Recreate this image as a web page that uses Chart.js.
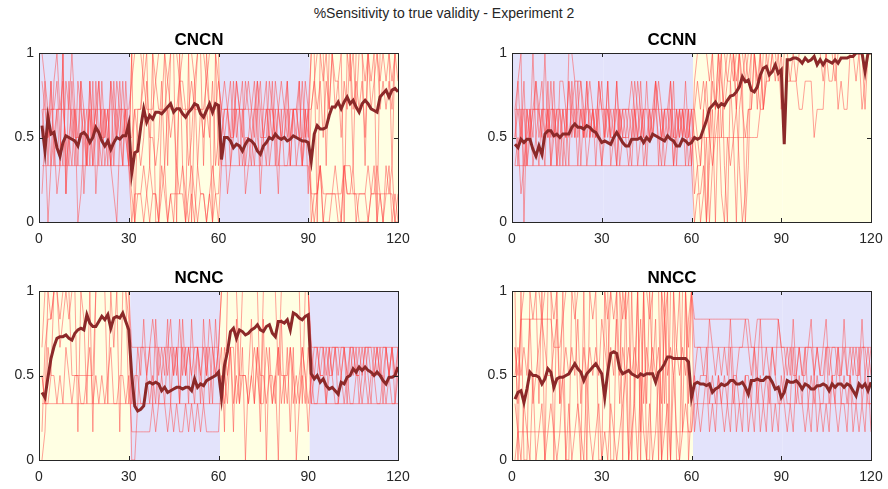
<!DOCTYPE html>
<html>
<head>
<meta charset="utf-8">
<script src="https://cdn.jsdelivr.net/npm/chart.js@4.4.0/dist/chart.umd.min.js"></script>
<style>
body { margin: 0; background: #fff; width: 888px; height: 489px; position: relative; overflow: hidden; font-family: "Liberation Sans", Arial, sans-serif; }
#mainTitle { position: absolute; left: 0; top: 5px; width: 888px; text-align: center; font-size: 14px; color: #262626; }
canvas { position: absolute; }
</style>
</head>
<body>
<div id="mainTitle">%Sensitivity to true validity - Experiment 2</div>
<canvas id="cncn" width="412" height="215" style="left:0px;top:32px"></canvas>
<canvas id="ccnn" width="412" height="215" style="left:473px;top:32px"></canvas>
<canvas id="ncnc" width="412" height="215" style="left:0px;top:270px"></canvas>
<canvas id="nncc" width="412" height="215" style="left:473px;top:270px"></canvas>
<script>
// trials 1..120
const trials = Array.from({ length: 120 }, (_, i) => i + 1);
const xTicks = [0, 30, 60, 90, 120];
const yTicks = [0, 0.5, 1];
const phaseEdges = [0, 30.5, 60.5, 90.5, 120];

// group means
const meanCNCN = [
0.57,0.42,0.62,0.52,0.53,0.44,0.39,0.47,0.51,0.50,
0.49,0.48,0.45,0.52,0.53,0.51,0.47,0.50,0.56,0.53,
0.48,0.45,0.48,0.43,0.47,0.50,0.49,0.51,0.51,0.58,
0.29,0.41,0.42,0.56,0.67,0.59,0.63,0.61,0.65,0.65,
0.64,0.66,0.68,0.70,0.65,0.67,0.67,0.64,0.62,0.65,
0.67,0.70,0.69,0.64,0.62,0.66,0.70,0.65,0.70,0.69,
0.37,0.50,0.50,0.48,0.44,0.46,0.45,0.42,0.46,0.49,
0.48,0.46,0.42,0.40,0.45,0.47,0.50,0.49,0.52,0.50,
0.49,0.50,0.48,0.49,0.51,0.50,0.49,0.48,0.48,0.47,
0.36,0.52,0.57,0.55,0.55,0.56,0.63,0.68,0.68,0.71,
0.67,0.71,0.74,0.70,0.72,0.68,0.65,0.70,0.72,0.70,
0.67,0.66,0.65,0.74,0.76,0.78,0.74,0.78,0.79,0.77];

const meanCCNN = [
0.46,0.44,0.49,0.47,0.49,0.49,0.43,0.39,0.45,0.40,
0.52,0.54,0.54,0.51,0.52,0.50,0.52,0.52,0.52,0.56,
0.58,0.56,0.56,0.55,0.57,0.56,0.54,0.53,0.50,0.47,
0.48,0.47,0.46,0.50,0.53,0.50,0.47,0.45,0.45,0.49,
0.49,0.49,0.50,0.47,0.50,0.48,0.52,0.51,0.50,0.49,
0.48,0.51,0.49,0.48,0.45,0.45,0.49,0.48,0.46,0.47,
0.50,0.49,0.50,0.55,0.60,0.67,0.69,0.71,0.68,0.70,
0.69,0.72,0.745,0.75,0.77,0.80,0.86,0.83,0.84,0.78,
0.77,0.80,0.87,0.91,0.92,0.87,0.89,0.93,0.88,0.90,
0.46,0.96,0.96,0.97,0.97,0.96,0.94,0.97,0.95,0.96,
0.98,0.93,0.96,0.93,0.96,0.95,0.94,0.96,0.94,0.97,
0.97,0.97,0.98,0.98,1.00,1.00,1.00,0.89,1.00,1.00];

const meanNCNC = [
0.40,0.37,0.49,0.60,0.67,0.72,0.73,0.73,0.74,0.72,
0.71,0.75,0.77,0.78,0.77,0.86,0.81,0.79,0.79,0.82,
0.85,0.83,0.86,0.78,0.84,0.85,0.84,0.87,0.82,0.77,
0.50,0.32,0.29,0.30,0.32,0.45,0.46,0.45,0.46,0.45,
0.41,0.43,0.40,0.41,0.42,0.43,0.43,0.42,0.43,0.43,
0.41,0.48,0.43,0.45,0.44,0.47,0.48,0.49,0.50,0.52,
0.37,0.56,0.64,0.76,0.78,0.72,0.77,0.76,0.74,0.75,
0.77,0.78,0.80,0.77,0.76,0.79,0.80,0.75,0.73,0.82,
0.82,0.81,0.83,0.77,0.87,0.86,0.84,0.83,0.85,0.86,
0.51,0.48,0.50,0.46,0.48,0.44,0.42,0.43,0.41,0.39,
0.46,0.45,0.49,0.50,0.54,0.52,0.55,0.53,0.55,0.53,
0.52,0.50,0.52,0.50,0.47,0.45,0.49,0.49,0.50,0.55];

const meanNNCC = [
0.36,0.40,0.41,0.34,0.42,0.52,0.50,0.50,0.49,0.45,
0.48,0.54,0.52,0.43,0.48,0.49,0.49,0.50,0.51,0.54,
0.57,0.54,0.52,0.47,0.51,0.53,0.55,0.57,0.54,0.51,
0.37,0.52,0.63,0.64,0.63,0.54,0.51,0.52,0.53,0.51,
0.50,0.49,0.51,0.50,0.51,0.51,0.51,0.46,0.52,0.54,
0.57,0.61,0.61,0.60,0.60,0.60,0.60,0.60,0.58,0.37,
0.45,0.46,0.45,0.45,0.44,0.45,0.40,0.42,0.43,0.45,
0.44,0.45,0.47,0.47,0.45,0.45,0.46,0.43,0.39,0.47,
0.47,0.48,0.47,0.47,0.49,0.49,0.46,0.42,0.43,0.37,
0.40,0.47,0.46,0.46,0.47,0.45,0.42,0.45,0.44,0.42,
0.42,0.44,0.44,0.45,0.44,0.41,0.45,0.43,0.45,0.45,
0.43,0.45,0.44,0.41,0.38,0.45,0.43,0.45,0.41,0.46];

// single subjects, one digit per trial in sixths (0 = 0, 6 = 1)
const subjCNCN = [
"4444444444 4444444444 4444444444 5666566656 6656665666 6566656665 4444444444 4444444444 4444444444 4566564655 6665646656 5665656566",
"2222222222 2222222222 2222222222 1011210110 1201021101 2101101210 2222222222 2222222222 2222222222 1112111111 1222111112 1111011100",
"4335244432 5333424235 3342354432 6044662600 4626606206 0466264062 3442354233 2453343524 3342435243 6606626666 6066266626 6606666266",
"3525312615 3425134253 4235243532 2432353323 5243425542 3524343523 4312442412 3241324431 4223423241 4545354645 3546454536 4564545465",
"5434453254 6435425345 3425435342 0111012110 2101111210 1021101011 3443534354 3445344354 3453443534 1012011121 0211201110 1201112010",
"1302342613 2401342513 2432103242 6666666666 6666666666 6666666666 2345344523 4532452342 3352445234 6666666666 6666666666 6666666666",
"6542564523 4254325342 5342534253 3444544454 4454445444 5444454445 4543354445 4354335434 5434443354 0112000110 0211110000 1121021201"
];

const subjCCNN = [
"4444444444 4444444444 4444444444 4444444444 4444444444 4444444444 3333333333 3333333333 3344556566 6666666666 6666666666 6666666666",
"2222222222 2222222222 2222222222 2222222222 2222222222 2222222222 0112032463 5666565666 6566666666 6666666666 6666666666 6666666666",
"3560434543 6344255434 3453454345 3433534445 4353334543 4453434334 1224024046 2056420144 6464666664 6666566666 6666666566 6666666466",
"4535236345 3435234354 5343534354 3534243334 3543534454 3435243534 4545435465 4553464344 6546656666 4555544555 3444655645 4466566666",
"2312342324 3423443266 5554343432 4343243323 4342343432 4442343423 3201302341 0323045026 6666666666 6666666666 6666666666 6666666666",
"3434243534 4353424353 4243534354 4433534343 5434433543 4353344342 5666656666 6665666566 6664566666 6656666666 6665666666 6666664566",
"4242434443 2524342425 3524234242 3523423432 4234243524 2342434242 4324536456 6566466656 6666666656 6666666666 6666666666 6666666666"
];

const subjNCNC = [
"1455666666 6666666666 6666666666 4444444444 4444444444 4444444444 6666666666 6666666666 6666666666 4444444444 4444444444 4444444444",
"2222222222 2222222222 2222222222 2222222222 2222222222 2222222222 2324232332 3243323324 2334232324 2222222222 2222222222 2222222222",
"3223323243 2332234232 3234223323 1111111212 2212121121 2121211111 3234423332 3432243234 3324323432 3443343444 3434433434 3343443434",
"0143664566 3333333366 6666466666 2332232324 3434342434 3443242434 6666663666 6662666663 6666666266 4334434343 4433434344 4343343433",
"3265665665 6616526166 6626661665 0024434542 3245342534 3243435434 2434152403 5241504230 5241402431 3223323322 3232233232 3322323223",
"4666666666 6666666666 6666666662 3243534253 4352435342 5342534253 4166666666 6666666666 6666666666 2343424342 3424342343 2434243424"
];

const subjNNCC = [
"4256665665 6665666666 5666665666 6566665666 6666656666 5666666646 4444444444 4444444444 4444444444 4444444444 4444444444 4444444444",
"2111111111 1111111111 1111111111 1111111111 1111111111 1111111111 2222222222 2222222222 2222222222 2222222222 2222222222 2222222222",
"4355555555 5554445666 6666666666 6365636560 3616263506 2606461626 5555555555 5555555554 4555555554 4343343444 3433443343 4334334434",
"0102103012 0121013020 1210310120 1021012301 2031020130 1203101211 3233423232 3242322332 4232324322 3224232423 2322423242 3232242322",
"6060066626 0660626006 6206066600 6600660606 2606006660 6066006602 3443354343 4353344543 4353434354 3435343345 3434534433 5343435343",
"3434352345 4334523434 3524343435 4343524343 4352434342 5343434356 1212312132 1213121312 1312131213 2121322121 3121213212 2131212131"
];

const panels = [
    { id: 'cncn', title: 'CNCN', phases: 'CNCN', mean: meanCNCN, subjects: subjCNCN },
    { id: 'ccnn', title: 'CCNN', phases: 'CCNN', mean: meanCCNN, subjects: subjCCNN },
    { id: 'ncnc', title: 'NCNC', phases: 'NCNC', mean: meanNCNC, subjects: subjNCNC },
    { id: 'nncc', title: 'NNCC', phases: 'NNCC', mean: meanNNCC, subjects: subjNNCC }
];

const phaseColors = { C: '#e3e3fb', N: '#ffffe3' };
const axisColor = '#262626';

function parseSubject(s) {
    return s.replace(/ /g, '').slice(0, 120).split('').map(d => Number(d) / 6);
}

function toPoints(values) {
    return values.map((v, i) => ({ x: trials[i], y: v }));
}

// coloured background per block + matlab style box with inward ticks
const phaseBg = {
    id: 'phaseBg',
    beforeDatasetsDraw(chart, args, opts) {
        const { ctx, chartArea: a, scales: { x } } = chart;
        ctx.save();
        opts.phases.split('').forEach((p, i) => {
            const x0 = x.getPixelForValue(phaseEdges[i]);
            const x1 = x.getPixelForValue(phaseEdges[i + 1]);
            ctx.fillStyle = phaseColors[p];
            ctx.fillRect(x0, a.top, x1 - x0, a.bottom - a.top);
        });
        ctx.restore();
    },
    afterDatasetsDraw(chart) {
        const { ctx, chartArea: a, scales: { x, y } } = chart;
        ctx.save();
        ctx.strokeStyle = axisColor;
        ctx.lineWidth = 1;
        ctx.strokeRect(Math.round(a.left) + 0.5, Math.round(a.top) + 0.5,
            Math.round(a.right - a.left), Math.round(a.bottom - a.top));
        ctx.beginPath();
        xTicks.forEach(t => {
            const px = Math.round(x.getPixelForValue(t)) + 0.5;
            ctx.moveTo(px, a.bottom); ctx.lineTo(px, a.bottom - 4);
            ctx.moveTo(px, a.top); ctx.lineTo(px, a.top + 4);
        });
        yTicks.forEach(t => {
            const py = Math.round(y.getPixelForValue(t)) + 0.5;
            ctx.moveTo(a.left, py); ctx.lineTo(a.left + 4, py);
            ctx.moveTo(a.right, py); ctx.lineTo(a.right - 4, py);
        });
        ctx.stroke();
        ctx.restore();
    }
};

panels.forEach(p => {
    const datasets = [{
        data: toPoints(p.mean),
        borderColor: '#8c2929',
        borderWidth: 3,
        order: 0
    }];
    p.subjects.forEach(s => {
        datasets.push({
            data: toPoints(parseSubject(s)),
            borderColor: 'rgba(255, 70, 70, 0.5)',
            borderWidth: 1,
            order: 1
        });
    });

    new Chart(document.getElementById(p.id), {
        type: 'line',
        data: { datasets: datasets },
        options: {
            responsive: false,
            animation: false,
            elements: { point: { radius: 0 }, line: { tension: 0 } },
            layout: { padding: { left: 0, right: 14, top: 0, bottom: 0 } },
            plugins: {
                legend: { display: false },
                tooltip: { enabled: false },
                title: {
                    display: true,
                    text: p.title,
                    color: '#000',
                    font: { family: 'Liberation Sans', size: 17, weight: 'bold', lineHeight: 1 },
                    padding: { top: 0, bottom: 4 }
                },
                phaseBg: { phases: p.phases }
            },
            scales: {
                x: {
                    type: 'linear',
                    min: 0,
                    max: 120,
                    afterBuildTicks: s => { s.ticks = xTicks.map(v => ({ value: v })); },
                    afterFit: s => { s.height = 25; s.paddingLeft = 0; s.paddingRight = 0; },
                    grid: { display: false, drawTicks: false },
                    border: { display: false },
                    ticks: { color: axisColor, font: { family: 'Liberation Sans', size: 14 }, padding: 9, maxRotation: 0 }
                },
                y: {
                    min: 0,
                    max: 1,
                    afterBuildTicks: s => { s.ticks = yTicks.map(v => ({ value: v })); },
                    afterFit: s => { s.width = 39; s.paddingTop = 0; s.paddingBottom = 0; },
                    grid: { display: false, drawTicks: false },
                    border: { display: false },
                    ticks: {
                        color: axisColor,
                        font: { family: 'Liberation Sans', size: 14 },
                        padding: 5,
                        callback: v => String(v)
                    }
                }
            }
        },
        plugins: [phaseBg]
    });
});
</script>
</body>
</html>
